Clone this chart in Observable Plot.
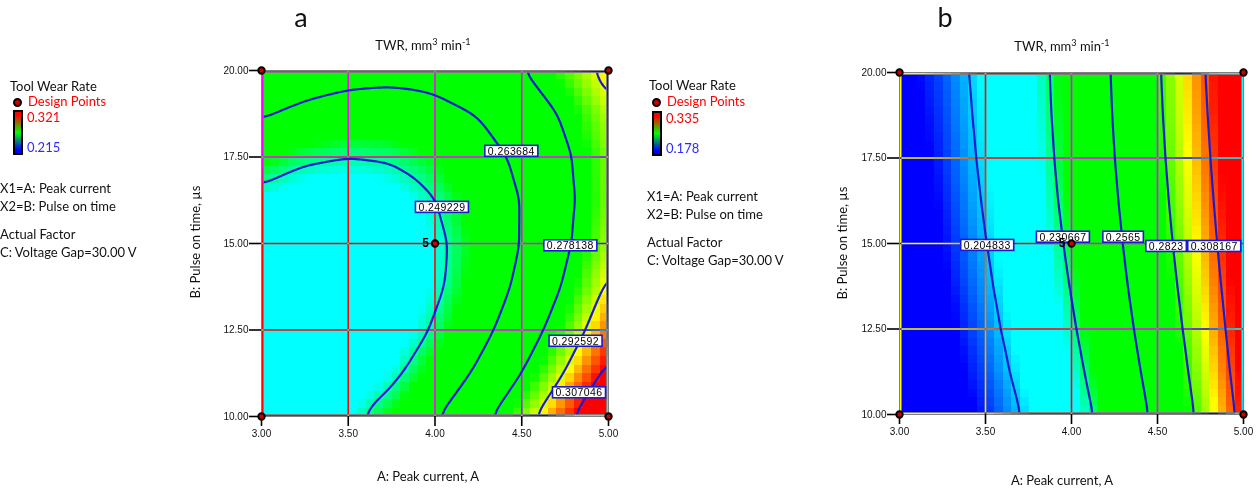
<!DOCTYPE html>
<html>
<head>
<meta charset="utf-8">
<script src="https://cdn.jsdelivr.net/npm/d3@7"></script>
<script src="https://cdn.jsdelivr.net/npm/@observablehq/plot@0.6"></script>
<style>
  html, body { margin: 0; padding: 0; background: #fff; }
  body { width: 1256px; height: 490px; position: relative; overflow: hidden; font-family: Lato, "Open Sans", sans-serif; color: #111; }
  .t { position: absolute; white-space: nowrap; line-height: 1; font-size: 13px; }
  .panel { position: absolute; top: 0; }
  .bar { position: absolute; box-sizing: border-box; border: 2px solid #000; background: linear-gradient(to bottom, #ff0000 8%, #00ff00 50%, #0000ff 92%); }
  .ldot { position: absolute; width: 5px; height: 5px; border-radius: 50%; background: #c00; border: 2px solid #000; }
  sup { font-size: 0.7em; line-height: 0; }
</style>
</head>
<body>
<script>
// ---------- data ----------
const xTicks = [3, 3.5, 4, 4.5, 5];
const yTicks = [10, 12.5, 15, 17.5, 20];
const xGrid = [3, 3.25, 3.5, 3.75, 4, 4.25, 4.5, 4.75, 5];
const yGrid = [10, 11.25, 12.5, 13.75, 15, 16.25, 17.5, 18.75, 20];

// Panel a: TWR (rows = yGrid, cols = xGrid)
const twrA = [
  [0.2401, 0.2423, 0.2468, 0.2536, 0.2626, 0.2739, 0.2875, 0.3034, 0.3215],
  [0.2367, 0.2379, 0.2414, 0.2472, 0.2553, 0.2656, 0.2782, 0.2931, 0.3102],
  [0.2356, 0.2359, 0.2384, 0.2432, 0.2502, 0.2596, 0.2712, 0.2851, 0.3012],
  [0.2369, 0.2361, 0.2376, 0.2414, 0.2475, 0.2559, 0.2665, 0.2794, 0.2946],
  [0.2404, 0.2387, 0.2392, 0.2420, 0.2471, 0.2545, 0.2641, 0.2760, 0.2902],
  [0.2463, 0.2435, 0.2431, 0.2449, 0.2490, 0.2554, 0.2640, 0.2750, 0.2882],
  [0.2544, 0.2507, 0.2493, 0.2501, 0.2532, 0.2586, 0.2663, 0.2762, 0.2884],
  [0.2649, 0.2602, 0.2578, 0.2576, 0.2598, 0.2642, 0.2708, 0.2798, 0.2910],
  [0.2777, 0.2720, 0.2686, 0.2675, 0.2686, 0.2720, 0.2777, 0.2857, 0.2959]
];
// Panel b
const twrB = [
  [0.1831, 0.1876, 0.1956, 0.2069, 0.2216, 0.2396, 0.2611, 0.2859, 0.3141],
  [0.1835, 0.1892, 0.1981, 0.2101, 0.2252, 0.2435, 0.2648, 0.2893, 0.3169],
  [0.1840, 0.1908, 0.2004, 0.2130, 0.2285, 0.2469, 0.2682, 0.2924, 0.3196],
  [0.1847, 0.1922, 0.2025, 0.2155, 0.2313, 0.2499, 0.2712, 0.2952, 0.3221],
  [0.1856, 0.1936, 0.2043, 0.2177, 0.2337, 0.2524, 0.2738, 0.2978, 0.3245],
  [0.1865, 0.1949, 0.2059, 0.2195, 0.2357, 0.2545, 0.2760, 0.3000, 0.3267],
  [0.1877, 0.1961, 0.2072, 0.2209, 0.2372, 0.2562, 0.2778, 0.3020, 0.3288],
  [0.1890, 0.1972, 0.2082, 0.2219, 0.2383, 0.2574, 0.2792, 0.3036, 0.3308],
  [0.1904, 0.1983, 0.2090, 0.2226, 0.2390, 0.2582, 0.2802, 0.3050, 0.3327]
];

const levelsA = [0.249229, 0.263684, 0.278138, 0.292592, 0.307046];
const levelsB = [0.204833, 0.230667, 0.2565, 0.2823, 0.308167];
const labelAX = [4.04, 4.44, 4.78, 4.81, 4.83];
const labelAY = [16.04, 17.66, 14.93, 12.17, 10.68];
const labelBX = [3.51, 3.95, 4.30, 4.55, 4.83];
const labelBY = [14.94, 15.18, 15.18, 14.91, 14.91];

const designX = [3, 3, 5, 5, 4];
const designY = [10, 20, 10, 20, 15];
const centerRuns = 5;

const legendRangeA = [0.215, 0.321];
const legendRangeB = [0.178, 0.335];
const colorStops = [0, 0.10, 0.19, 0.30, 0.36, 0.64, 0.745, 0.80, 0.87, 1];
const colorRange = ["#0000ff", "#0000ff", "#00ffff", "#00ffff", "#00ff00", "#00ff00", "#ffff00", "#ff8000", "#ff0000", "#ff0000"];

const titleHTML = "TWR, mm<sup>3</sup> min<sup>-1</sup>";
const xTitle = "A: Peak current, A";
const yTitle = "B: Pulse on time, µs";
const legendTitle = "Tool Wear Rate";
const legendPoints = "Design Points";
const factorLines = ["X1=A: Peak current", "X2=B: Pulse on time"];
const actualLines = ["Actual Factor", "C: Voltage Gap=30.00 V"];

// ---------- helpers ----------
const BLUE = "#1a1ad2";
const SVGNS = "http://www.w3.org/2000/svg";
function txt(html, x, top, style = {}) {
  const d = document.createElement("div");
  d.className = "t";
  d.innerHTML = html;
  d.style.left = x + "px";
  d.style.top = top + "px";
  Object.assign(d.style, style);
  document.body.appendChild(d);
  return d;
}

function makePanel(grid, levels, labX, labY, range, dims) {
  const pts = [];
  yGrid.forEach((y, j) => xGrid.forEach((x, i) => pts.push({x, y, v: grid[j][i]})));
  const labels = levels.map((v, k) => ({x: labX[k], y: labY[k], text: String(v)}));
  const design = designX.map((x, k) => ({x, y: designY[k]}));
  const center = design.filter(d => d.x === xTicks[2] && d.y === yTicks[2]);
  const [lo, hi] = range;
  const fmt = d3.format(".2f");
  return Plot.plot({
    width: dims.width, height: 490,
    marginLeft: dims.mL, marginRight: dims.mR, marginTop: dims.mT, marginBottom: dims.mB,
    x: {domain: [xTicks[0], xTicks[xTicks.length - 1]], label: null},
    y: {domain: [yTicks[0], yTicks[yTicks.length - 1]], label: null},
    color: {type: "linear", domain: colorStops.map(t => lo + t * (hi - lo)), range: colorRange, interpolate: "rgb", clamp: true},
    style: {background: "transparent", fontFamily: "'Liberation Sans', Arial, sans-serif", overflow: "visible"},
    marks: [
      Plot.raster(pts, {x: "x", y: "y", fill: "v", interpolate: "barycentric", width: 40, height: 40, imageRendering: "pixelated"}),
      Plot.gridX({ticks: xTicks.slice(1, -1), stroke: "white", strokeOpacity: 1, strokeWidth: 1.6, mixBlendMode: "difference"}),
      Plot.gridY({ticks: yTicks.slice(1, -1), stroke: "white", strokeOpacity: 1, strokeWidth: 1.6, mixBlendMode: "difference"}),
      Plot.frame({stroke: "white", strokeWidth: 2, inset: 1, mixBlendMode: "difference"}),
      Plot.contour(pts, {x: "x", y: "y", value: "v", interpolate: "barycentric", thresholds: levels, blur: 3,
        stroke: BLUE, strokeWidth: 2.2, fill: "none"}),
      Plot.axisX({ticks: xTicks, tickFormat: fmt, tickSize: 10, tickPadding: 3, stroke: "#000", strokeWidth: 1.6, fontSize: 10, fill: "#111", label: null}),
      Plot.axisY({ticks: yTicks, tickFormat: fmt, tickSize: 12, tickPadding: 1, stroke: "#000", strokeWidth: 1.6, fontSize: 10, fill: "#111", label: null}),
      Plot.text(labels, {x: "x", y: "y", text: "text", fontSize: 10.5, fill: "#000"}),
      Plot.dot(design, {x: "x", y: "y", r: 3.2, fill: "#cc0000", stroke: "#000", strokeWidth: 2}),
      Plot.text(center, {x: "x", y: "y", text: () => String(centerRuns), dx: -6, textAnchor: "end", fontWeight: "bold", fontSize: 12, fill: "#000"})
    ]
  });
}

function finishPanel(svg, levels, dims, id) {
  // white boxes with blue border behind the contour labels
  const names = new Set(levels.map(String));
  svg.querySelectorAll("text").forEach(t => {
    if (!names.has(t.textContent)) return;
    t.setAttribute("letter-spacing", "0.4");
    const b = t.getBBox();
    const r = document.createElementNS(SVGNS, "rect");
    r.setAttribute("x", b.x - 3);
    r.setAttribute("y", b.y + 0.5);
    r.setAttribute("width", b.width + 6);
    r.setAttribute("height", b.height - 1);
    r.setAttribute("fill", "#fff");
    r.setAttribute("stroke", BLUE);
    r.setAttribute("stroke-width", 1.6);
    const tr = t.getAttribute("transform");
    if (tr) r.setAttribute("transform", tr);
    t.parentNode.insertBefore(r, t);
  });
  // clip the contour lines just inside the frame so the raster-boundary edges are hidden
  const g = svg.querySelector('g[aria-label="contour"]');
  if (g) {
    const defs = document.createElementNS(SVGNS, "defs");
    const cp = document.createElementNS(SVGNS, "clipPath");
    cp.setAttribute("id", id);
    const rr = document.createElementNS(SVGNS, "rect");
    const ins = 2.2;
    rr.setAttribute("x", dims.mL + ins);
    rr.setAttribute("y", dims.mT + ins);
    rr.setAttribute("width", dims.width - dims.mL - dims.mR - 2 * ins);
    rr.setAttribute("height", 490 - dims.mT - dims.mB - 2 * ins);
    cp.appendChild(rr);
    defs.appendChild(cp);
    svg.insertBefore(defs, svg.firstChild);
    g.setAttribute("clip-path", `url(#${id})`);
  }
}

function addPanel(grid, levels, labX, labY, range, dims, left, id) {
  const svg = makePanel(grid, levels, labX, labY, range, dims);
  const wrap = document.createElement("div");
  wrap.className = "panel";
  wrap.style.left = left + "px";
  wrap.appendChild(svg);
  document.body.appendChild(wrap);
  finishPanel(svg, levels, dims, id);
}

// ---------- panels ----------
addPanel(twrA, levelsA, labelAX, labelAY, legendRangeA, {width: 470, mL: 101, mR: 22, mT: 70, mB: 74}, 160, "clipA");
addPanel(twrB, levelsB, labelBX, labelBY, legendRangeB, {width: 446, mL: 89, mR: 13, mT: 72, mB: 76}, 810, "clipB");

// ---------- text, titles, legends ----------
txt("a", 301, 3, {fontSize: "27px", transform: "translateX(-50%)"});
txt("b", 945, 3, {fontSize: "27px", transform: "translateX(-50%)"});
txt(titleHTML, 423, 39, {transform: "translateX(-50%)"});
txt(titleHTML, 1062, 40, {transform: "translateX(-50%)"});
txt(xTitle, 428, 470, {transform: "translateX(-50%)"});
txt(xTitle, 1062, 474, {transform: "translateX(-50%)"});
txt(yTitle, 195, 242, {transform: "translate(-50%,-50%) rotate(-90deg)"});
txt(yTitle, 842, 243, {transform: "translate(-50%,-50%) rotate(-90deg)"});

function legend(o, range) {
  txt(legendTitle, o.x, o.tTitle);
  const dot = document.createElement("div");
  dot.className = "ldot";
  dot.style.left = (o.x + 3) + "px";
  dot.style.top = (o.tPts + 3) + "px";
  document.body.appendChild(dot);
  txt(legendPoints, o.x + 18, o.tPts, {color: "#ff0000"});
  const bar = document.createElement("div");
  bar.className = "bar";
  bar.style.left = o.barX + "px";
  bar.style.top = o.barY + "px";
  bar.style.width = "10px";
  bar.style.height = "45px";
  document.body.appendChild(bar);
  txt(d3.format(".3f")(range[1]), o.barX + 14, o.barY + 1, {color: "#ff0000"});
  txt(d3.format(".3f")(range[0]), o.barX + 14, o.barY + 31, {color: "#2b2bff"});
  txt(factorLines[0], o.fx, o.tF);
  txt(factorLines[1], o.fx, o.tF + 18);
  txt(actualLines[0], o.fx, o.tF + 46);
  txt(actualLines[1], o.fx, o.tF + 64);
}
legend({x: 10, tTitle: 80, tPts: 95, barX: 13, barY: 110, fx: 0, tF: 182}, legendRangeA);
legend({x: 649, tTitle: 79, tPts: 95, barX: 652, barY: 111, fx: 647, tF: 190}, legendRangeB);
</script>
</body>
</html>
